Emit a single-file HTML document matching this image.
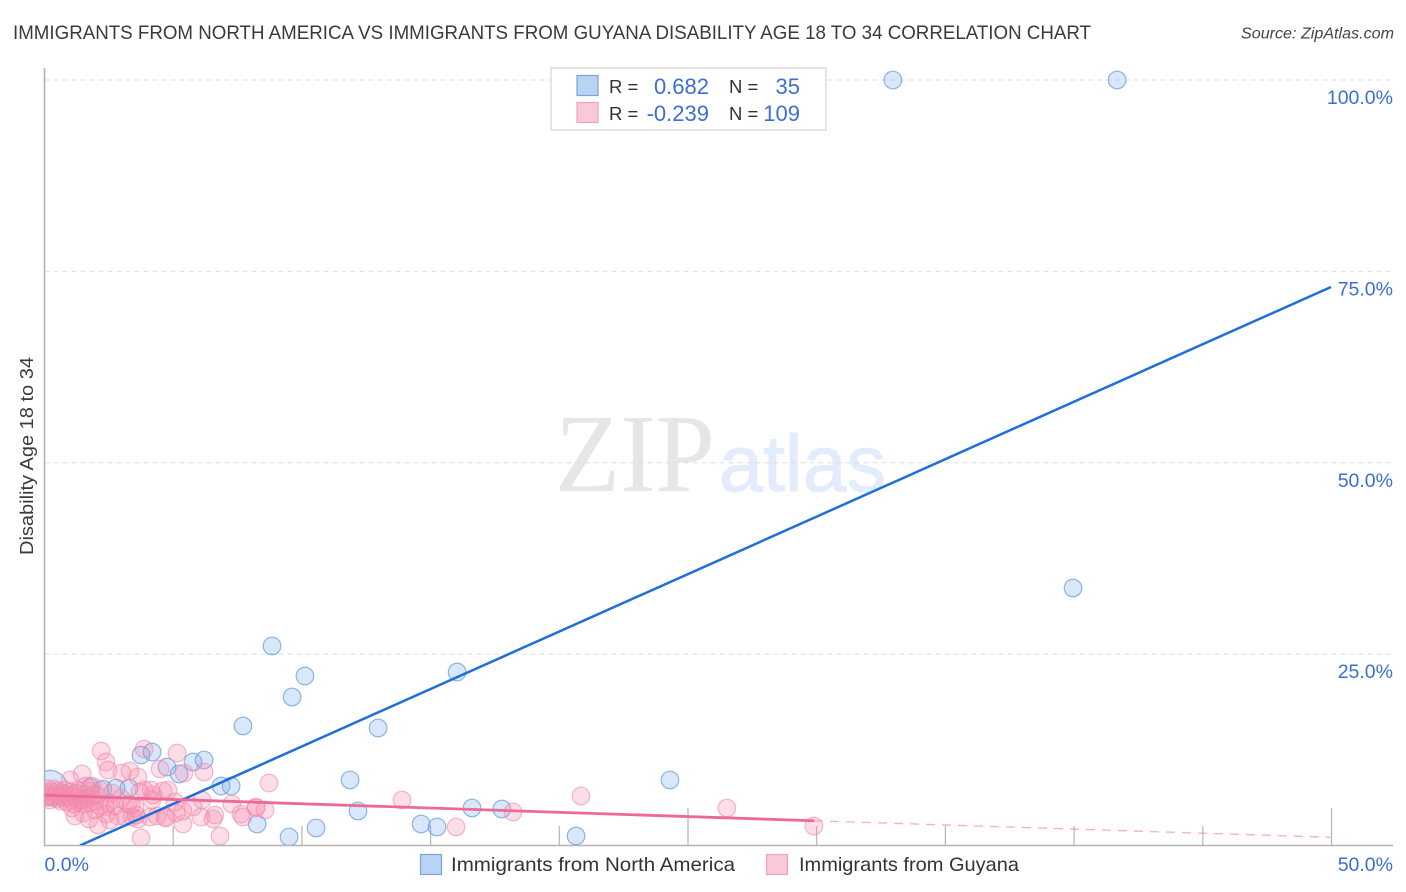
<!DOCTYPE html>
<html lang="en">
<head>
<meta charset="utf-8">
<title>Immigrants from North America vs Immigrants from Guyana Disability Age 18 to 34 Correlation Chart</title>
<style>
html,body{margin:0;padding:0;background:#fff;width:1406px;height:892px;overflow:hidden}
svg{display:block;font-family:"Liberation Sans",sans-serif}
</style>
</head>
<body>
<svg id="chart" xmlns="http://www.w3.org/2000/svg" width="1406" height="892" viewBox="0 0 1406 892">
  <defs>
    <clipPath id="plot-clip"><rect x="44.5" y="60" width="1349" height="785"/></clipPath>
  </defs>
  <rect x="0" y="0" width="1406" height="892" fill="#fff"/>
  <text x="13" y="39" font-size="19.5" fill="#3a3a3a" textLength="1078" lengthAdjust="spacingAndGlyphs">IMMIGRANTS FROM NORTH AMERICA VS IMMIGRANTS FROM GUYANA DISABILITY AGE 18 TO 34 CORRELATION CHART</text>
  <text x="1241" y="38.5" font-size="15.5" font-style="italic" fill="#444" textLength="153" lengthAdjust="spacingAndGlyphs">Source: ZipAtlas.com</text>
  <g>
    <text x="555" y="491" font-family="'Liberation Serif',serif" font-size="111" fill="#e6e6e6" textLength="160" lengthAdjust="spacingAndGlyphs">ZIP</text>
    <text x="719" y="491" font-size="80" fill="#e3ecfa" stroke="#e3ecfa" stroke-width="1" textLength="167" lengthAdjust="spacingAndGlyphs">atlas</text>
  </g>
  <g id="grid"></g>
  <g id="axes"></g>
  <g id="points" clip-path="url(#plot-clip)"></g>
  <g id="trends" clip-path="url(#plot-clip)"></g>
  <text transform="translate(33,456) rotate(-90)" text-anchor="middle" font-size="18.5" fill="#3a3a3a" textLength="198" lengthAdjust="spacingAndGlyphs">Disability Age 18 to 34</text>

  <g>
    <rect x="551" y="68" width="275" height="62" fill="#fff" stroke="#ddd" stroke-width="1.5"/>
    <rect x="577" y="75.5" width="21" height="20" fill="#b9d3f5" stroke="#7ba3d8" stroke-width="1.2"/>
    <rect x="577" y="102.5" width="21" height="20" fill="#fbc8d8" stroke="#f0a2bc" stroke-width="1.2"/>
    <text x="609" y="93" font-size="18.5" fill="#333">R =</text>
    <text x="709" y="94" font-size="22" fill="#3b70d0" text-anchor="end">0.682</text>
    <text x="729" y="93" font-size="18.5" fill="#333">N =</text>
    <text x="800" y="94" font-size="22" fill="#3b70d0" text-anchor="end">35</text>
    <text x="609" y="120" font-size="18.5" fill="#333">R =</text>
    <text x="709" y="121" font-size="22" fill="#3b70d0" text-anchor="end">-0.239</text>
    <text x="729" y="120" font-size="18.5" fill="#333">N =</text>
    <text x="800" y="121" font-size="22" fill="#3b70d0" text-anchor="end">109</text>
  </g>

  <g>
    <g>
      <rect x="420.5" y="854.5" width="21" height="20" fill="#b9d3f5" stroke="#7ba3d8" stroke-width="1.2"/>
      <text x="451" y="871" font-size="19.5" fill="#333" textLength="284" lengthAdjust="spacingAndGlyphs">Immigrants from North America</text>
    </g>
    <g>
      <rect x="766.5" y="854.5" width="21" height="20" fill="#fbc8d8" stroke="#f0a2bc" stroke-width="1.2"/>
      <text x="799" y="871" font-size="19.5" fill="#333" textLength="220" lengthAdjust="spacingAndGlyphs">Immigrants from Guyana</text>
    </g>
  </g>
</svg>
<script>
const yTickValues = [100, 75, 50, 25];
const yTickLabels = ["100.0%", "75.0%", "50.0%", "25.0%"];
const xEdgeValues = [0, 50];
const xEdgeLabels = ["0.0%", "50.0%"];
const xMinorTicks = [5, 10, 15, 20, 25, 30, 35, 40, 45, 50];

const naX = [32.96,41.67,39.96,8.84,10.12,9.62,16.03,7.71,12.96,24.30,11.87,3.75,4.18,5.77,6.20,4.76,5.23,6.86,7.25,8.26,9.50,10.55,12.18,14.63,15.25,16.61,17.77,20.65,2.27,2.78,3.28,1.77,1.22,0.21,0.60];
const naY = [100,100,33.64,26.06,22.14,19.40,22.66,15.61,15.35,8.56,8.56,11.82,12.21,10.91,11.17,10.25,9.34,7.77,7.77,2.81,1.11,2.29,4.51,2.81,2.42,4.90,4.77,1.24,7.38,7.51,7.51,7.64,6.86,7.51,6.47];
const naWeight = [1,1,1,1,1,1,1,1,1,1,1,1,1,1,1,1,1,1,1,1,1,1,1,1,1,1,1,1,1,1,1,1,1,4,1];

const guX = [2.20,2.39,2.47,1.46,0.99,3.01,3.32,3.63,3.87,5.15,4.49,5.42,6.20,8.72,8.22,8.22,8.57,7.28,7.63,7.71,6.12,6.55,6.62,6.08,5.38,6.82,3.75,4.68,4.72,5.11,5.38,5.77,4.60,4.18,4.22,3.87,4.14,4.80,3.52,3.40,3.63,3.56,3.13,2.86,2.97,3.24,4.10,4.37,2.51,2.39,3.36,2.08,1.73,1.50,1.18,2.35,2.16,1.77,1.85,3.71,5.07,13.89,15.99,18.20,20.84,26.51,29.89,0.06,0.10,0.14,0.17,0.21,0.29,0.33,0.37,0.45,0.49,0.52,0.60,0.64,0.68,0.76,0.80,0.84,0.87,0.95,0.99,1.07,1.11,1.15,1.22,1.30,1.38,1.46,1.53,1.57,1.69,1.77,1.85,1.96,2.04,1.61,1.30,2.16,2.62,2.74,1.07,1.96,2.54];
const guY = [12.34,10.91,9.86,9.34,8.56,9.47,9.73,8.95,12.61,12.08,9.99,9.47,9.60,8.16,5.03,4.90,4.64,5.42,4.11,3.72,5.94,3.46,3.98,3.72,2.81,1.24,0.98,3.72,3.59,4.25,4.51,5.03,7.12,5.94,6.60,7.25,7.25,7.25,4.90,3.72,3.46,3.98,3.72,3.85,6.20,5.42,3.72,3.85,5.55,4.11,5.29,2.68,3.46,4.25,3.85,5.03,5.16,7.12,7.77,6.99,5.68,5.94,2.42,4.38,6.47,4.90,2.55,6.99,6.34,7.38,6.60,5.94,6.99,6.34,7.38,6.73,6.07,7.12,6.47,5.81,6.86,6.21,7.25,6.60,5.68,6.34,6.99,5.94,6.60,5.42,6.21,5.68,6.47,5.94,5.42,6.73,6.07,5.55,6.47,5.81,6.60,7.77,7.25,7.25,6.86,5.16,4.90,4.64,3.33];

const naTrendX = [1.38, 49.98];
const naTrendY = [0, 72.96];
const guTrendX = [0, 29.9];
const guTrendY = [6.57, 3.23];
const guForecastX = [29.9, 49.98];
const guForecastY = [3.23, 1.07];

const NS = "http://www.w3.org/2000/svg";
function sx(v){ return 44.5 + v * 25.74; }
function sy(v){ return 845.5 - v * 7.655; }
function make(parent, tag, attrs){
  const el = document.createElementNS(NS, tag);
  for (const k in attrs) el.setAttribute(k, attrs[k]);
  parent.appendChild(el);
  return el;
}
const grid = document.getElementById("grid");
const axes = document.getElementById("axes");
const points = document.getElementById("points");
const trends = document.getElementById("trends");

yTickValues.forEach(function(v, i){
  const line = make(grid, "line", {x1:44.5, x2:1393, y1:sy(v), y2:sy(v), stroke:"#ddd", "stroke-width":1, "stroke-dasharray":"5 4"});
  
  
  const label = make(axes, "text", {x:1393, y:sy(v)+24, "text-anchor":"end", "font-size":19.5, fill:"#3b70d0"});
  
  
  label.textContent = yTickLabels[i];
});

const yAxis = make(axes, "line", {x1:44.5, x2:44.5, y1:68, y2:846, stroke:"#b4b4b4", "stroke-width":1.6});


const xAxis = make(axes, "line", {x1:44, x2:1393, y1:845.5, y2:845.5, stroke:"#b4b4b4", "stroke-width":1.6});



xMinorTicks.forEach(function(v){
  const major = v % 25 === 0;
  const tick = make(axes, "line", {x1:sx(v), x2:sx(v), y1:major ? 808 : 826, y2:845.5, stroke:"#b4b4b4", "stroke-width":1.2});
  
  
});

xEdgeValues.forEach(function(v, i){
  const label = make(axes, "text", {x:i === 0 ? sx(v) : 1393, y:871, "text-anchor":i === 0 ? "start" : "end", "font-size":19.5, fill:"#3b70d0"});
  
  
  label.textContent = xEdgeLabels[i];
});

naX.forEach(function(v, i){
  const dot = make(points, "circle", {cx:sx(v), cy:sy(naY[i]), r:8.8 * Math.sqrt(naWeight[i]), fill:"#7fb0ee", "fill-opacity":0.3, stroke:"#6a9ede", "stroke-width":1.2, "stroke-opacity":0.75});
  
  
});
guX.forEach(function(v, i){
  const dot = make(points, "circle", {cx:sx(v), cy:sy(guY[i]), r:8.8, fill:"#f98fb0", "fill-opacity":0.3, stroke:"#ec8aaa", "stroke-width":1.2, "stroke-opacity":0.6});
  
  
});

const naTrend = make(trends, "line", {x1:sx(naTrendX[0]), y1:sy(naTrendY[0]), x2:sx(naTrendX[1]), y2:sy(naTrendY[1]), stroke:"#1f6fd8", "stroke-width":2.5});


const guTrend = make(trends, "line", {x1:sx(guTrendX[0]), y1:sy(guTrendY[0]), x2:sx(guTrendX[1]), y2:sy(guTrendY[1]), stroke:"#ee6a96", "stroke-width":2.8});


const guForecast = make(trends, "line", {x1:sx(guForecastX[0]), y1:sy(guForecastY[0]), x2:sx(guForecastX[1]), y2:sy(guForecastY[1]), stroke:"#ee7fa4", "stroke-width":1.4, "stroke-opacity":0.6, "stroke-dasharray":"9 7"});


</script>
</body>
</html>
